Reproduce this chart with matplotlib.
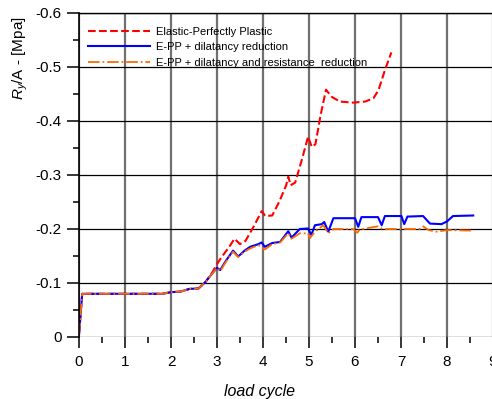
import matplotlib
matplotlib.use('Agg')
import matplotlib.pyplot as plt
from matplotlib.ticker import MultipleLocator

plt.rcParams['font.family'] = ['Liberation Sans', 'DejaVu Sans']
plt.rcParams['mathtext.fontset'] = 'custom'
plt.rcParams['mathtext.rm'] = 'Liberation Sans'
plt.rcParams['mathtext.it'] = 'Liberation Sans:italic'

# Elastic-Perfectly Plastic
x_epp = [0, 0.07, 0.5, 1.0, 1.5, 1.8, 2.0, 2.2, 2.4, 2.6, 2.75, 2.9, 3.0, 3.1, 3.25,
         3.38, 3.5, 3.62, 3.8, 3.97, 4.05, 4.2, 4.35, 4.5, 4.55, 4.6, 4.7, 4.85,
         4.98, 5.06, 5.14, 5.25, 5.37, 5.49, 5.67, 5.96, 6.22, 6.4, 6.51, 6.65, 6.79]
y_epp = [-0.005, -0.08, -0.08, -0.08, -0.08, -0.08, -0.083, -0.084, -0.089, -0.09,
         -0.102, -0.12, -0.135, -0.148, -0.165, -0.182, -0.172, -0.178, -0.205,
         -0.233, -0.224, -0.225, -0.25, -0.28, -0.297, -0.281, -0.286, -0.33,
         -0.371, -0.352, -0.357, -0.41, -0.458, -0.445, -0.436, -0.434, -0.436,
         -0.442, -0.457, -0.494, -0.527]

# E-PP + dilatancy reduction
x_dil = [0, 0.07, 0.5, 1.0, 1.5, 1.8, 2.0, 2.2, 2.4, 2.6, 2.75, 2.9, 3.0, 3.07, 3.2,
         3.35, 3.46, 3.6, 3.72, 3.9, 3.97, 4.04, 4.2, 4.37, 4.55, 4.62, 4.8, 4.98,
         5.05, 5.13, 5.28, 5.33, 5.42, 5.53, 6.0, 6.07, 6.14, 6.5, 6.58, 6.65,
         7.01, 7.07, 7.14, 7.48, 7.63, 7.88, 8.0, 8.13, 8.57]
y_dil = [-0.005, -0.08, -0.08, -0.08, -0.08, -0.08, -0.083, -0.084, -0.089, -0.09,
         -0.102, -0.118, -0.128, -0.124, -0.142, -0.16, -0.149, -0.16, -0.167,
         -0.172, -0.175, -0.167, -0.174, -0.176, -0.196, -0.184, -0.2, -0.201,
         -0.189, -0.207, -0.209, -0.213, -0.195, -0.22, -0.22, -0.204, -0.222,
         -0.222, -0.207, -0.224, -0.224, -0.209, -0.223, -0.224, -0.21, -0.209,
         -0.214, -0.224, -0.225]

# E-PP + dilatancy and resistance reduction
x_res = [0, 0.07, 0.5, 1.0, 1.5, 1.8, 2.0, 2.2, 2.4, 2.6, 2.75, 2.9, 3.0, 3.07, 3.2,
         3.35, 3.46, 3.6, 3.72, 3.9, 4.0, 4.04, 4.2, 4.37, 4.55, 4.62, 4.8, 4.98,
         5.02, 5.13, 5.31, 5.42, 5.53, 5.96, 6.05, 6.1, 6.5, 6.6, 7.0, 7.4, 7.48,
         7.6, 7.78, 8.0, 8.57]
y_res = [-0.005, -0.08, -0.08, -0.08, -0.08, -0.08, -0.083, -0.084, -0.089, -0.09,
         -0.102, -0.118, -0.128, -0.122, -0.14, -0.158, -0.148, -0.158, -0.164,
         -0.17, -0.164, -0.162, -0.172, -0.175, -0.192, -0.182, -0.192, -0.192,
         -0.183, -0.195, -0.207, -0.192, -0.2, -0.2, -0.193, -0.199, -0.205, -0.2,
         -0.2, -0.2, -0.205, -0.198, -0.195, -0.198, -0.197]

labels = ['Elastic-Perfectly Plastic', 'E-PP + dilatancy reduction',
          'E-PP + dilatancy and resistance  reduction']
x_ticks = [0, 1, 2, 3, 4, 5, 6, 7, 8, 9]
y_ticks = [0, -0.1, -0.2, -0.3, -0.4, -0.5, -0.6]
y_tick_labels = ['0', '-0.1', '-0.2', '-0.3', '-0.4', '-0.5', '-0.6']

fig = plt.figure(figsize=(4.92, 3.99), dpi=100)
ax = fig.add_axes([79 / 492, 62 / 399, 414 / 492, 324 / 399])

ax.plot(x_epp, y_epp, color='#FF0000', linestyle='--', linewidth=1.5, label=labels[0])
ax.plot(x_dil, y_dil, color='#0000FF', linestyle='-', linewidth=1.5, label=labels[1])
ax.plot(x_res, y_res, color='#FF6A00', linestyle='-.', linewidth=1.3, label=labels[2])

ax.set_xlim(0, 9)
ax.set_ylim(0, -0.6)
ax.set_xticks(x_ticks)
ax.set_yticks(y_ticks)
ax.set_yticklabels(y_tick_labels)
ax.xaxis.set_minor_locator(MultipleLocator(0.5))
ax.yaxis.set_minor_locator(MultipleLocator(0.05))

ax.grid(axis='x', which='major', color='#707070', linewidth=1.6)
ax.grid(axis='y', which='major', color='black', linewidth=0.9)
ax.set_axisbelow(True)

for s in ['right', 'bottom']:
    ax.spines[s].set_visible(False)
ax.spines['top'].set_linewidth(1.0)
ax.spines['left'].set_linewidth(1.2)

ax.tick_params(which='major', direction='out', length=8.5, width=1.1, labelsize=11, pad=4)
ax.tick_params(which='minor', direction='out', length=4.5, width=1.1)
ax.tick_params(axis='x', which='both', length=8, pad=5)
ax.tick_params(axis='x', which='minor', length=4.5)

ax.set_xlabel('load cycle', fontsize=11.5, style='italic')
ax.xaxis.set_label_coords((260 - 79) / 414, -(384 - 337) / 324)
ax.set_ylabel('$R_y$/A - [Mpa]', fontsize=11)
ax.yaxis.set_label_coords(-(79 - 30) / 414, (337 - 58) / 324)

ax.legend(loc='upper left', bbox_to_anchor=(0.0, 0.985), frameon=False, fontsize=8,
          handlelength=5.6, handletextpad=0.55, labelspacing=0.5, borderaxespad=0.4)

fig.savefig('out.png', dpi=100)
